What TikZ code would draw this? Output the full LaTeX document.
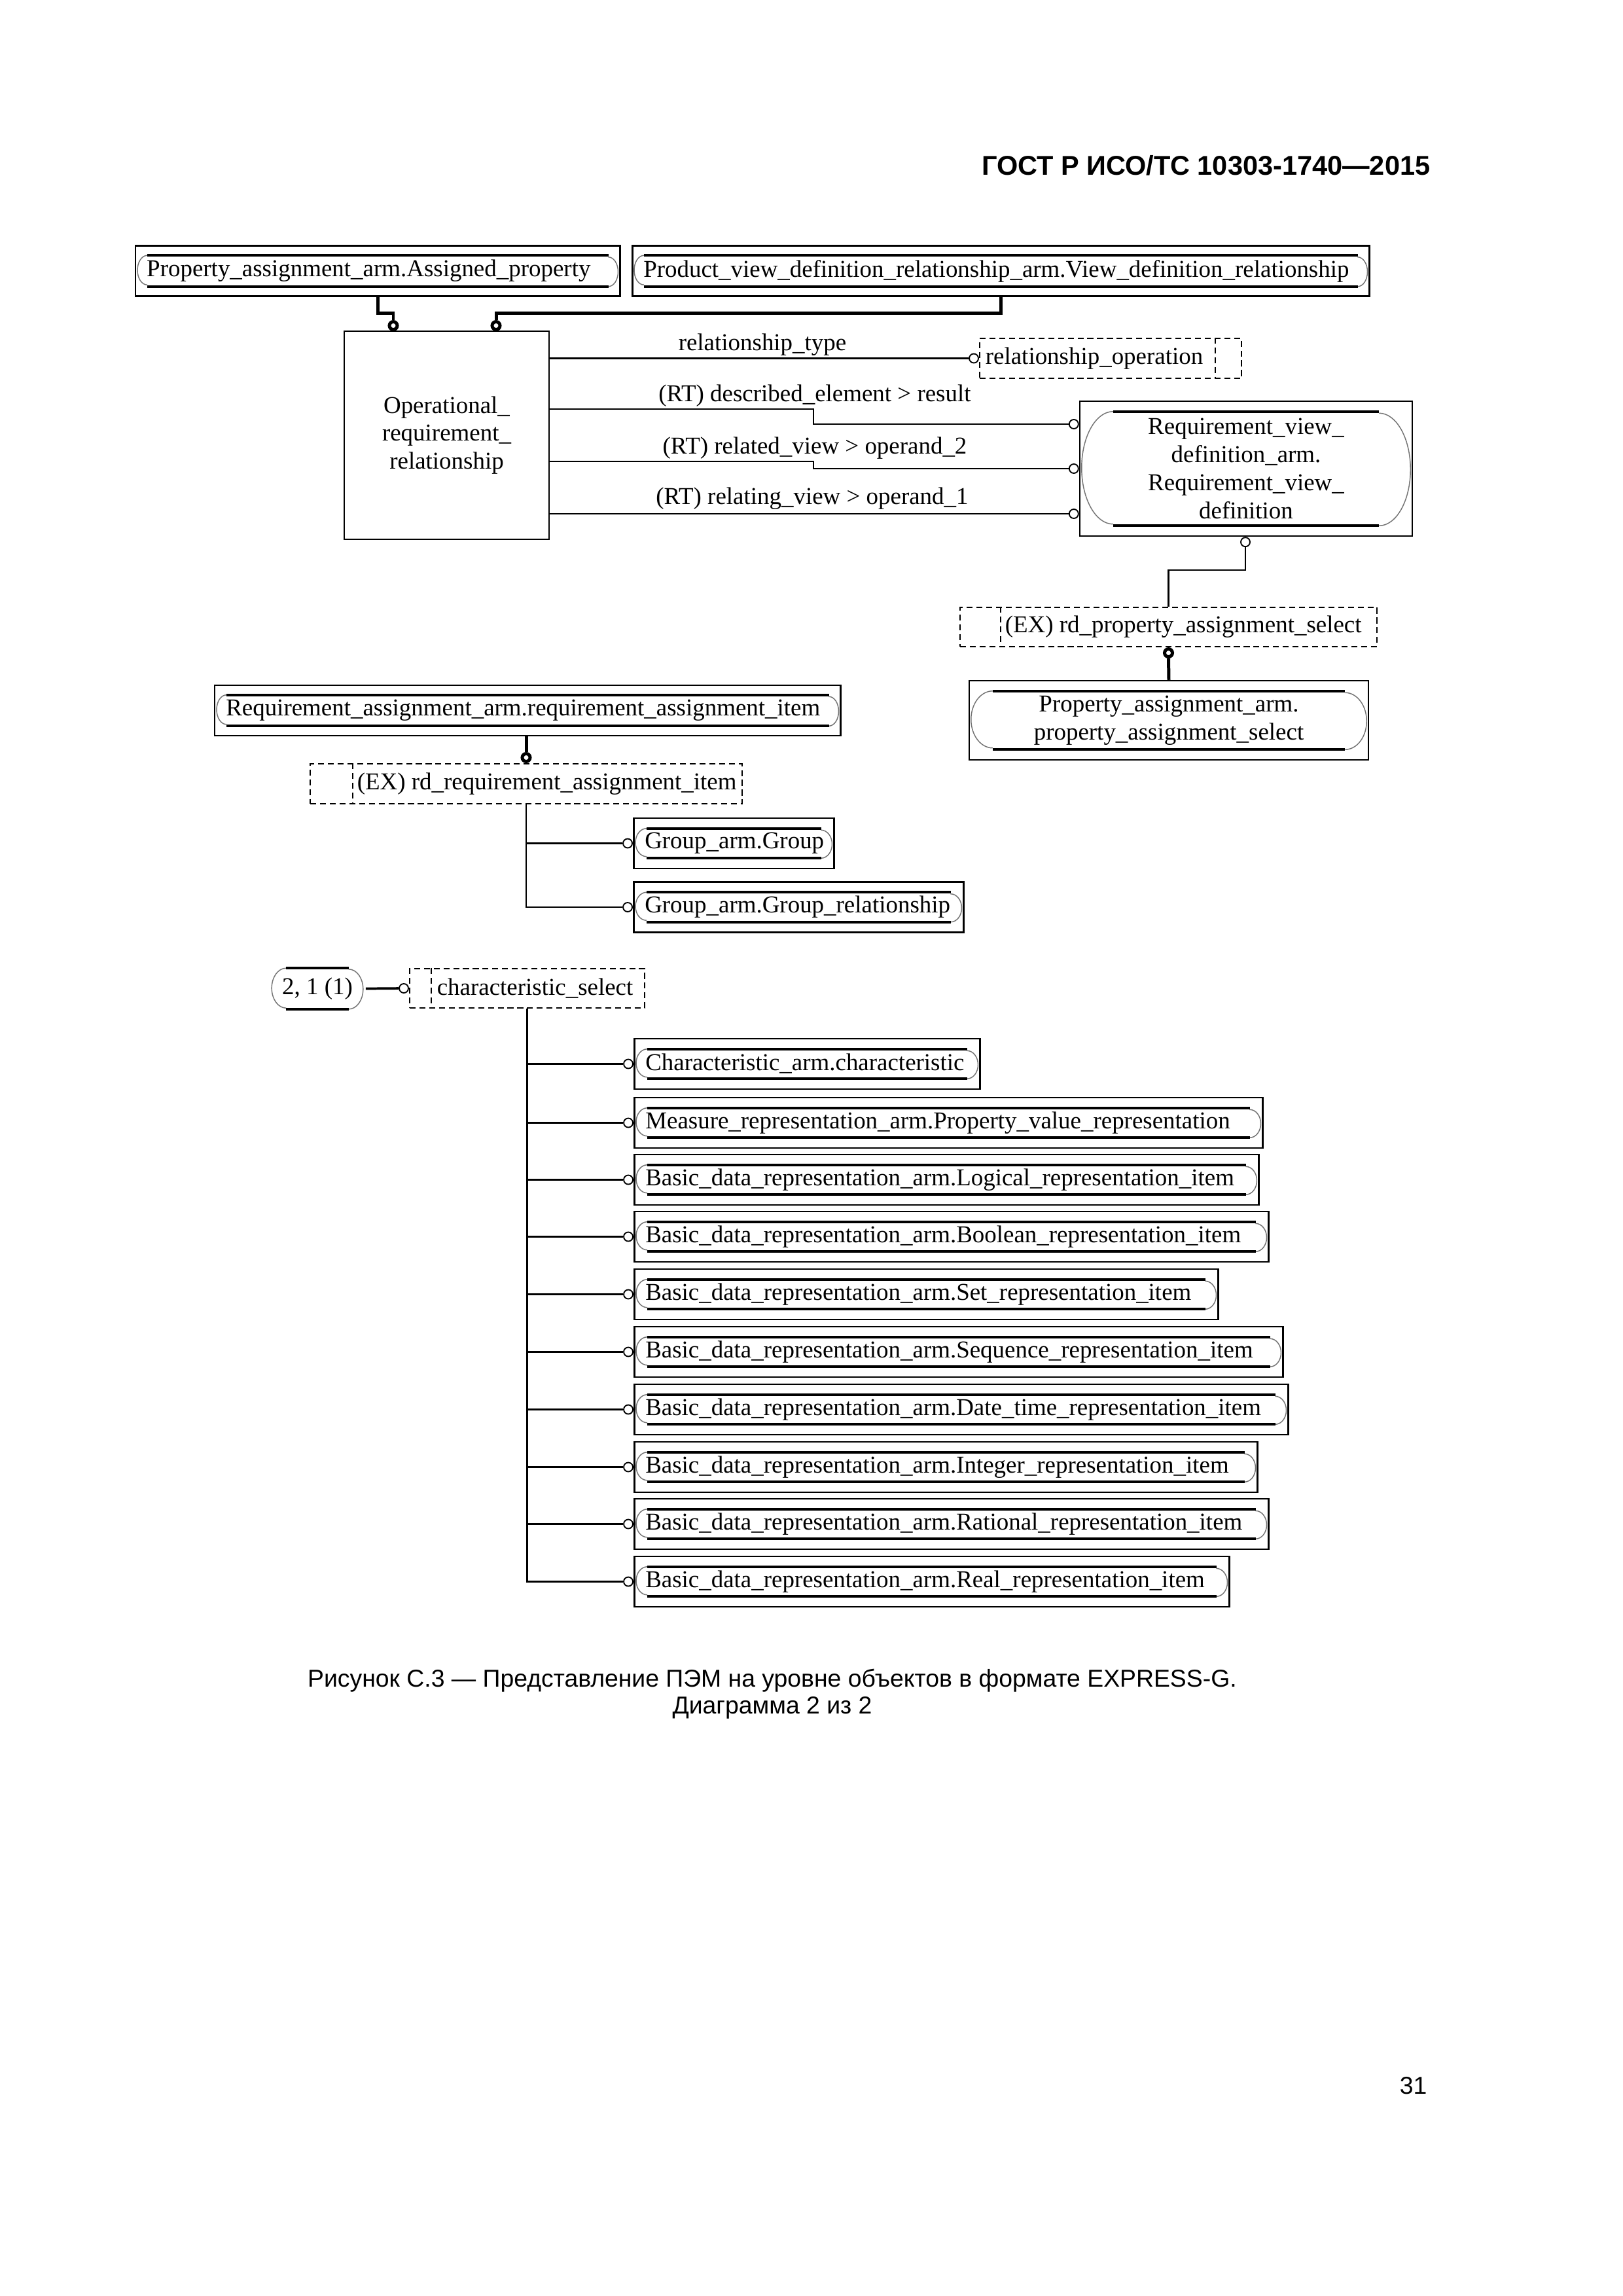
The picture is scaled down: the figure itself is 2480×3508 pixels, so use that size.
\documentclass[tikz,border=0pt]{standalone}
\usepackage{fontspec}
\setmainfont{Liberation Serif}
\newfontfamily\arialfont{Liberation Sans}
\newlength\px
\setlength\px{0.084677mm}
\newcommand{\diagfont}{\fontsize{8.9pt}{10.3pt}\selectfont}

% inner rounded frame of a box: node, vertical inset, end x radius, end y radius
\newcommand{\pill}[4]{%
  \draw[pillend] ([shift={(4+#3,#2)}]#1.north west) arc[start angle=270, end angle=90, x radius=#3, y radius=#4];
  \draw[pillend] ([shift={(-4-#3,-#2)}]#1.south east) arc[start angle=90, end angle=-90, x radius=#3, y radius=#4];
  \draw[pilledge] ([shift={(4+#3,#2)}]#1.north west) -- ([shift={(-4-#3,#2)}]#1.north east);
  \draw[pilledge] ([shift={(4+#3,-#2)}]#1.south west) -- ([shift={(-4-#3,-#2)}]#1.south east);
}

\tikzset{
  ent/.style={draw, line width=0.6pt, inner xsep=17*\px, inner ysep=0pt, minimum height=77*\px},
  entc/.style={draw, line width=0.6pt, align=center},
  seltype/.style={draw, dash pattern=on 2.2pt off 1.4pt, line width=0.5pt, inner sep=0pt},
  selline/.style={dash pattern=on 2.2pt off 1.4pt, line width=0.5pt},
  rel/.style={line width=0.55pt},
  sub/.style={line width=1.2pt},
  ocirc/.style={circle, draw, fill=white, line width=0.45pt, inner sep=0pt, minimum size=14*\px},
  bcirc/.style={circle, draw, fill=white, line width=1.2pt, inner sep=0pt, minimum size=12*\px},
  lbl/.style={inner sep=0pt},
  pillend/.style={draw=black!55, line width=0.35pt},
  pilledge/.style={line width=0.9pt},
}

\begin{document}
\begin{tikzpicture}[x=\px, y=-\px, every node/.style={font=\diagfont}]

	% Page
	\fill[white] (0,0) rectangle (2480,3508);
	\useasboundingbox (0,0) rectangle (2480,3508);

	% Header
	\node[anchor=base east, font=\arialfont\bfseries\fontsize{10pt}{12pt}\selectfont] (head) at (2200,267) {ГОСТ Р ИСО/ТС 10303-1740—2015};

	% Supertypes
	\node[ent, anchor=west] (pa) at (206,414) {\makebox[706\px][l]{Property\_assignment\_arm.Assigned\_property}};
	\node[ent, anchor=west] (pvdr) at (965,414) {\makebox[1092\px][l]{Product\_view\_definition\_relationship\_arm.View\_definition\_relationship}};
	\pill{pa}{16}{15}{22.5}
	\pill{pvdr}{16}{15}{22.5}

	% Operational requirement relationship
	\node[entc, minimum width=313*\px, minimum height=318*\px] (orr) at (682.5,665) {Operational\_\\requirement\_\\relationship};
	\node[bcirc, anchor=south] (s1) at (601,506) {};
	\node[bcirc, anchor=south] (s2) at (758,506) {};
	\draw[sub] (pa.south) -- ++(0,25) -| (s1.north);
	\draw[sub] (pvdr.south) -- ++(0,25) -| (s2.north);

	% relationship_type
	\node[seltype, minimum width=400*\px, minimum height=61*\px] (relop) at (1697,547.5) {};
	\draw[selline] (relop.north -| 1857,0) -- (relop.south -| 1857,0);
	\node[lbl, anchor=west] (relopt) at (1505,547.5) {relationship\_operation};
	\node[ocirc, anchor=east] (r1) at (relop.west) {};
	\draw[rel] (orr.east |- r1) -- (r1);
	\node[lbl] (r1t) at (1165,527) {relationship\_type};

	% Requirement view definition
	\node[entc, minimum width=508*\px, minimum height=206*\px] (rvd) at (1904,716) {Requirement\_view\_\\definition\_arm.\\Requirement\_view\_\\definition};
	\pill{rvd}{17}{48}{86}
	\node[ocirc, anchor=east] (a1) at (rvd.west |- 0,648) {};
	\node[ocirc, anchor=east] (a2) at (rvd.west |- 0,716) {};
	\node[ocirc, anchor=east] (a3) at (rvd.west |- 0,785) {};
	\draw[rel] (orr.east |- 0,625) -| (1243,648) -- (a1);
	\draw[rel] (orr.east |- 0,705) -| (1243,716) -- (a2);
	\draw[rel] (orr.east |- a3) -- (a3);
	\node[lbl] (a1t) at (1245,605) {(RT) described\_element > result};
	\node[lbl] (a2t) at (1245,685) {(RT) related\_view > operand\_2};
	\node[lbl] (a3t) at (1241,762) {(RT) relating\_view > operand\_1};

	% rd_property_assignment_select
	\node[seltype, minimum width=637*\px, minimum height=60*\px] (rdpas) at (1785.5,958) {};
	\draw[selline] (rdpas.north -| 1529,0) -- (rdpas.south -| 1529,0);
	\node[lbl, anchor=west] (rdpast) at (1535,958) {(EX) rd\_property\_assignment\_select};
	\node[ocirc, anchor=north] (b1) at (rvd.south -| 1903,0) {};
	\draw[rel] (rdpas.north) -- ++(0,-56) -| (b1.south);

	% Property assignment select
	\node[entc, minimum width=610*\px, minimum height=121*\px] (pas) at (1786,1100.5) {Property\_assignment\_arm.\\property\_assignment\_select};
	\pill{pas}{17}{33}{43.5}
	\node[bcirc, anchor=north] (b2) at (rdpas.south) {};
	\draw[sub] (b2.south) -- (pas.north);

	% Requirement assignment item
	\node[ent, anchor=west] (ra) at (327,1085.5) {\makebox[922\px][l]{Requirement\_assignment\_arm.requirement\_assignment\_item}};
	\pill{ra}{16}{15}{22.5}
	\node[seltype, minimum width=660*\px, minimum height=61*\px] (rdra) at (804,1197.5) {};
	\draw[selline] (rdra.north -| 539,0) -- (rdra.south -| 539,0);
	\node[lbl, anchor=west] (rdrat) at (545,1197.5) {(EX) rd\_requirement\_assignment\_item};
	\node[bcirc, anchor=south] (d1) at (rdra.north) {};
	\draw[sub] (ra.south -| d1) -- (d1.north);

	% Groups
	\node[ent, anchor=west] (grp) at (967,1288.5) {\makebox[272\px][l]{Group\_arm.Group}};
	\node[ent, anchor=west] (grprel) at (967,1386) {\makebox[470\px][l]{Group\_arm.Group\_relationship}};
	\pill{grp}{17}{17}{21.5}
	\pill{grprel}{17}{17}{21.5}
	\node[ocirc, anchor=east] (g1) at (grp.west) {};
	\node[ocirc, anchor=east] (g2) at (grprel.west) {};
	\draw[rel] (rdra.south) |- (g1);
	\draw[rel] (rdra.south) |- (g2);

	% characteristic_select
	\node[minimum width=146*\px, minimum height=61*\px, inner sep=0pt] (pref) at (485,1510.5) {2, 1 (1)};
	\pill{pref}{0}{22}{30.5}
	\node[seltype, minimum width=359*\px, minimum height=60*\px] (chsel) at (805.5,1510) {};
	\draw[selline] (chsel.north -| 659,0) -- (chsel.south -| 659,0);
	\node[lbl, anchor=west] (chselt) at (667,1510) {characteristic\_select};
	\node[ocirc, anchor=east] (h0) at (chsel.west) {};
	\draw[line width=0.9pt] (pref.east) -- (h0);

	% Select items
	\node[ent, anchor=west] (it1) at (968,1625.5) {\makebox[494\px][l]{Characteristic\_arm.characteristic}};
	\node[ent, anchor=west] (it2) at (968,1715.5) {\makebox[926\px][l]{Measure\_representation\_arm.Property\_value\_representation}};
	\node[ent, anchor=west] (it3) at (968,1802.5) {\makebox[920\px][l]{Basic\_data\_representation\_arm.Logical\_representation\_item}};
	\node[ent, anchor=west] (it4) at (968,1889.5) {\makebox[935\px][l]{Basic\_data\_representation\_arm.Boolean\_representation\_item}};
	\node[ent, anchor=west] (it5) at (968,1977.5) {\makebox[858\px][l]{Basic\_data\_representation\_arm.Set\_representation\_item}};
	\node[ent, anchor=west] (it6) at (968,2065.5) {\makebox[957\px][l]{Basic\_data\_representation\_arm.Sequence\_representation\_item}};
	\node[ent, anchor=west] (it7) at (968,2153.5) {\makebox[965\px][l]{Basic\_data\_representation\_arm.Date\_time\_representation\_item}};
	\node[ent, anchor=west] (it8) at (968,2241.5) {\makebox[918\px][l]{Basic\_data\_representation\_arm.Integer\_representation\_item}};
	\node[ent, anchor=west] (it9) at (968,2328.5) {\makebox[935\px][l]{Basic\_data\_representation\_arm.Rational\_representation\_item}};
	\node[ent, anchor=west] (it10) at (968,2416.5) {\makebox[875\px][l]{Basic\_data\_representation\_arm.Real\_representation\_item}};
	\foreach \i in {1,...,10} {
		\pill{it\i}{17}{17}{21.5}
		\node[ocirc, anchor=east] (h\i) at (it\i.west) {};
		\draw[rel] (chsel.south) |- (h\i);
	}

	% Caption
	\node[anchor=base, font=\arialfont\fontsize{9pt}{11pt}\selectfont] (cap1) at (1180,2577) {Рисунок С.3 — Представление ПЭМ на уровне объектов в формате EXPRESS-G.};
	\node[anchor=base, font=\arialfont\fontsize{9pt}{11pt}\selectfont] (cap2) at (1180,2618) {Диаграмма 2 из 2};

	% Page number
	\node[anchor=base east, font=\arialfont\fontsize{9pt}{11pt}\selectfont] (pgno) at (2195,3199) {31};

\end{tikzpicture}
\end{document}
